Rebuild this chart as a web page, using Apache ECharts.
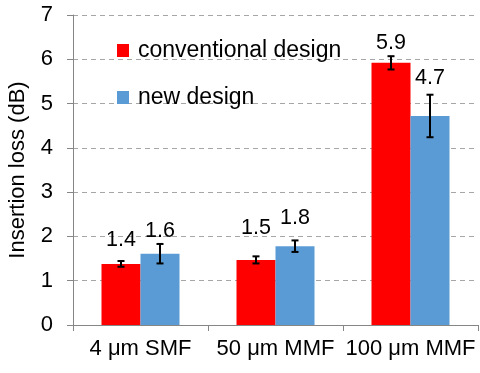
<!DOCTYPE html>
<html>
<head>
<meta charset="utf-8">
<script src="https://cdn.jsdelivr.net/npm/echarts@6/dist/echarts.min.js"></script>
<style>html,body{margin:0;padding:0;background:#fff}#c{width:480px;height:373px}</style>
</head>
<body>
<div id="c"></div>
<script>
var categories = ['4 μm SMF', '50 μm MMF', '100 μm MMF'];
var conventional = [1.38, 1.47, 5.92];
var newDesign = [1.61, 1.78, 4.72];
var convErr = [0.065, 0.08, 0.15];
var newErr = [0.22, 0.13, 0.48];
var yTicks = [0, 1, 2, 3, 4, 5, 6, 7];

// label gaps (style)
var convLabelGap = [13, 21, 9];
var newLabelGap = [12, 17, 27];

var FONT = 'Liberation Sans, Arial, sans-serif';
var FS = 22;
var BW = 39;

var chart = echarts.init(document.getElementById('c'));

function barData(vals, gaps) {
  return vals.map(function (v, i) {
    return { value: v, label: { distance: gaps[i] } };
  });
}
function errData(vals, errs) {
  return vals.map(function (v, i) { return [i, v - errs[i], v + errs[i]]; });
}
function errRender(offset) {
  return function (params, api) {
    var x = api.value(0);
    var lo = api.coord([x, api.value(1)]);
    var hi = api.coord([x, api.value(2)]);
    var cx = lo[0] + offset;
    var cap = 3.5;
    var st = { stroke: '#000', lineWidth: 2 };
    return {
      type: 'group',
      children: [
        { type: 'line', shape: { x1: cx, y1: lo[1], x2: cx, y2: hi[1] }, style: st },
        { type: 'line', shape: { x1: cx - cap, y1: lo[1], x2: cx + cap, y2: lo[1] }, style: st },
        { type: 'line', shape: { x1: cx - cap, y1: hi[1], x2: cx + cap, y2: hi[1] }, style: st }
      ]
    };
  };
}

var labelCfg = {
  show: true, position: 'top', color: '#000', fontSize: FS - 0.5, fontFamily: FONT,
  formatter: function (p) { return p.value.toFixed(1); }
};

chart.setOption({
  animation: false,
  textStyle: { fontFamily: FONT },
  grid: { left: 73, right: 2, top: 15, bottom: 48, containLabel: false, outerBoundsMode: 'none' },
  legend: {
    orient: 'vertical', left: 112, top: 34, itemWidth: 12, itemHeight: 13, itemGap: 24,
    icon: 'rect',
    textStyle: { fontSize: FS + 1, color: '#000', fontFamily: FONT, padding: [0, 0, 0, 4] },
    data: ['conventional design', 'new design']
  },
  xAxis: {
    type: 'category', data: categories,
    axisLine: { lineStyle: { color: '#868686', width: 1 } },
    axisTick: { show: true, length: 6, lineStyle: { color: '#868686' } },
    axisLabel: { color: '#000', fontSize: FS, fontFamily: FONT, margin: 13, interval: 0 }
  },
  yAxis: {
    type: 'value', min: yTicks[0], max: yTicks[yTicks.length - 1], interval: 1,
    name: 'Insertion loss (dB)', nameLocation: 'middle', nameGap: 44,
    nameTextStyle: { color: '#000', fontSize: FS, fontFamily: FONT },
    axisLine: { show: true, lineStyle: { color: '#868686', width: 1 } },
    axisTick: { show: true, length: 6, lineStyle: { color: '#868686' } },
    axisLabel: { color: '#000', fontSize: FS, fontFamily: FONT, margin: 20 },
    splitLine: { lineStyle: { color: '#A6A6A6', type: [5, 4], width: 1 } }
  },
  series: [
    { name: 'conventional design', type: 'bar', barWidth: BW, barGap: '0%',
      itemStyle: { color: '#FF0000' }, label: labelCfg, z: 2,
      data: barData(conventional, convLabelGap) },
    { name: 'new design', type: 'bar', barWidth: BW, barGap: '0%',
      itemStyle: { color: '#5B9BD5' }, label: labelCfg, z: 2,
      data: barData(newDesign, newLabelGap) },
    { type: 'custom', renderItem: errRender(-BW / 2), encode: { x: 0, y: [1, 2] },
      data: errData(conventional, convErr), z: 5, silent: true },
    { type: 'custom', renderItem: errRender(BW / 2), encode: { x: 0, y: [1, 2] },
      data: errData(newDesign, newErr), z: 5, silent: true }
  ]
});
</script>
</body>
</html>
